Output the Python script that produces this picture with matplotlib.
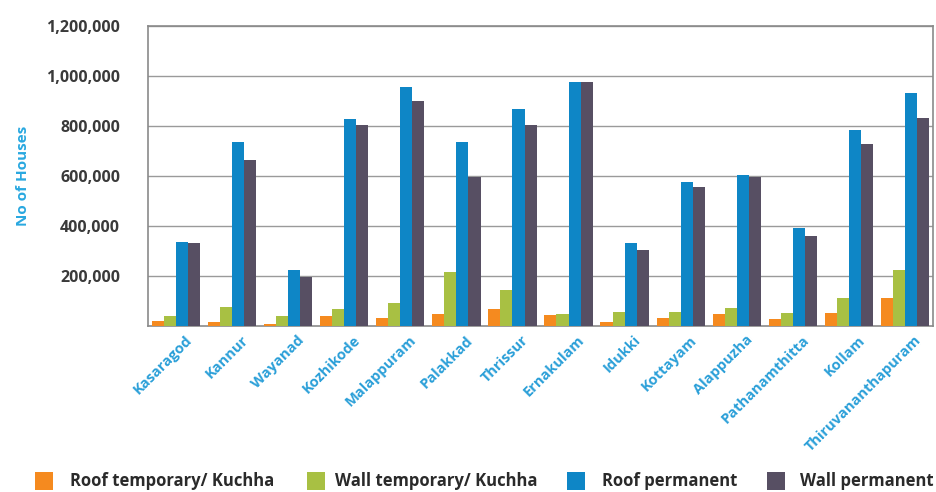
import matplotlib
matplotlib.use("Agg")
import matplotlib.pyplot as plt
from matplotlib.patches import Rectangle
from matplotlib.ticker import FuncFormatter
from matplotlib.transforms import ScaledTranslation
import numpy as np

districts = ["Kasaragod", "Kannur", "Wayanad", "Kozhikode", "Malappuram", "Palakkad",
             "Thrissur", "Ernakulam", "Idukki", "Kottayam", "Alappuzha",
             "Pathanamthitta", "Kollam", "Thiruvananthapuram"]
roof_temp = [20000, 15000, 8000, 42000, 32000, 50000, 68000, 43000, 17000, 32000, 47000, 30000, 53000, 113000]
wall_temp = [40000, 78000, 42000, 67000, 93000, 215000, 143000, 47000, 58000, 58000, 73000, 53000, 113000, 223000]
roof_perm = [338000, 735000, 225000, 830000, 955000, 735000, 870000, 978000, 333000, 577000, 605000, 391000, 784000, 931000]
wall_perm = [331000, 665000, 195000, 805000, 900000, 595000, 805000, 978000, 303000, 555000, 595000, 360000, 727000, 833000]
series_names = ["Roof temporary/ Kuchha", "Wall temporary/ Kuchha", "Roof permanent", "Wall permanent"]
colors = ["#f58a1f", "#a8c043", "#0e86c6", "#574f63"]
yticks = [200000, 400000, 600000, 800000, 1000000, 1200000]

font = "Open Sans"
W, H = 936, 492
fig = plt.figure(figsize=(W / 100, H / 100), dpi=100)
ax = fig.add_axes([148 / W, 1 - 326 / H, (933 - 148) / W, 300 / H])

x = np.arange(len(districts))
w = 0.215
data = [roof_temp, wall_temp, roof_perm, wall_perm]
for i, (vals, c) in enumerate(zip(data, colors)):
    ax.bar(x + (i - 1.5) * w, vals, width=w, color=c, zorder=3)

ax.set_xlim(-0.5, len(districts) - 0.5)
ax.set_ylim(0, 1200000)
ax.set_yticks(yticks)
ax.yaxis.set_major_formatter(FuncFormatter(lambda v, p: f"{int(v):,}"))
ax.grid(axis="y", color="#9a9a9a", linewidth=1.0, zorder=0)
for s in ax.spines.values():
    s.set_color("#8a8a8a")
    s.set_linewidth(1.2)
ax.tick_params(axis="y", length=0, pad=20, labelsize=11.5, labelcolor="#3a3a3a")
for lab in ax.get_yticklabels():
    lab.set_fontfamily(font)
    lab.set_fontweight("bold")
ax.set_xticks(x)
ax.set_xticklabels(districts, rotation=45, ha="right", va="top", rotation_mode="anchor",
                   fontfamily=font, fontweight="bold", fontsize=10.5, color="#2a9fd8")
ax.tick_params(axis="x", length=0, pad=5)
offset = ScaledTranslation(9 / 100, 0, fig.dpi_scale_trans)
for lab in ax.get_xticklabels():
    lab.set_transform(lab.get_transform() + offset)
ax.set_ylabel("No of Houses", fontfamily=font, fontweight="bold", fontsize=11,
              color="#29a8e0", labelpad=12)

# legend drawn manually in figure pixel positions
sq_x = [35, 307, 567, 767]
tx_x = [70, 335, 602, 800]
yc = 481
for sx, tx, c, name in zip(sq_x, tx_x, colors, series_names):
    fig.patches.append(Rectangle((sx / W, (H - yc - 9) / H), 18 / W, 18 / H,
                                 transform=fig.transFigure, facecolor=c, edgecolor="none"))
    fig.text(tx / W, (H - yc) / H, name, ha="left", va="center", fontfamily=font,
             fontweight="bold", fontsize=12, color="#2a2a2a")

fig.savefig("out.png", dpi=100)
